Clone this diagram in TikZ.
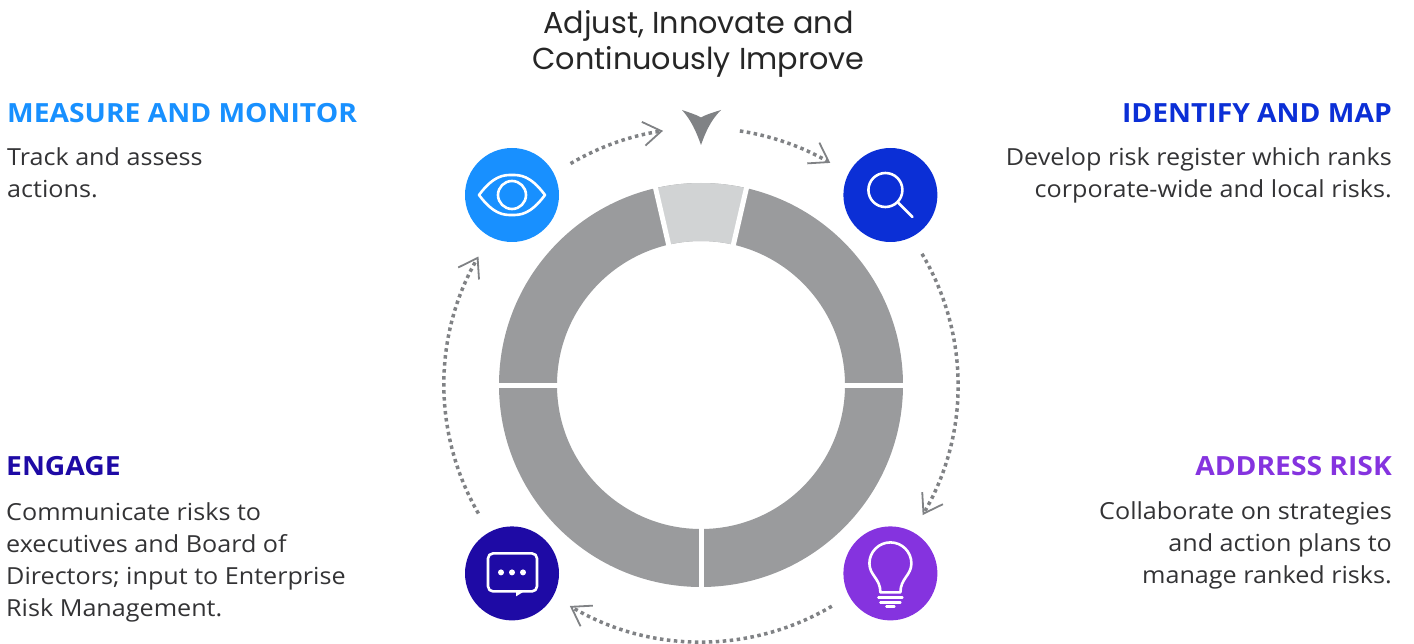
\documentclass[tikz,border=0pt]{standalone}
\usepackage{fontspec}
\setmainfont[FakeStretch=1.07]{Open Sans}
\newfontfamily\goalfont{Poppins}
\usetikzlibrary{arrows.meta, positioning, calc}
\definecolor{ringgrey}{HTML}{9A9B9D}
\definecolor{lightgrey}{HTML}{D1D3D4}
\definecolor{flowgrey}{HTML}{808285}
\definecolor{bodytext}{HTML}{333335}
\definecolor{monitorblue}{HTML}{1890FF}
\definecolor{identifyblue}{HTML}{0B2FD6}
\definecolor{engagenavy}{HTML}{1E0AA5}
\definecolor{addresspurple}{HTML}{8533DF}
\tikzstyle{badge} = [circle, minimum size=94pt, inner sep=0pt]
\tikzstyle{headleft} = [anchor=base west, inner sep=0pt, font=\bfseries\fontsize{26.4}{26}\selectfont]
\tikzstyle{headright} = [anchor=base east, inner sep=0pt, font=\bfseries\fontsize{26.4}{26}\selectfont]
\tikzstyle{bodyleft} = [anchor=north west, inner sep=0pt, align=left, text=bodytext, font=\fontsize{23.5}{32}\selectfont]
\tikzstyle{bodyright} = [anchor=north east, inner sep=0pt, align=right, text=bodytext, font=\fontsize{23.5}{32}\selectfont]
\tikzstyle{flow} = [draw=flowgrey, line width=3.5pt, dash pattern=on 3.5pt off 3.5pt, -{Straight Barb[line width=1.8pt, length=18pt, width=24pt]}]
\tikzstyle{glyph} = [draw=white, line width=2.6pt, line cap=round, line join=round]
\begin{document}
\begin{tikzpicture}[x=1pt, y=1pt]
	\useasboundingbox (0,0) rectangle (1414,-644);
	\coordinate (hub) at (701,-385);
	%----------------------------------------------------%
	\fill[ringgrey, even odd rule] (hub) circle[radius=202pt] (hub) circle[radius=144pt];
	\fill[lightgrey] ($(hub)+(77:202pt)$) arc[start angle=77, end angle=103, radius=202pt] -- ($(hub)+(103:144pt)$) arc[start angle=103, end angle=77, radius=144pt] -- cycle;
	\foreach \gapangle in {0,77,103,180,270}
		\draw[white, line width=5pt] ($(hub)+(\gapangle:138pt)$) -- ($(hub)+(\gapangle:208pt)$);
	%----------------------------------------------------%
	\fill[flowgrey] (701,-145) .. controls (696,-131) and (691,-120) .. (682,-110) .. controls (689,-112.5) and (696,-114.5) .. (701,-117.5) .. controls (706,-114.5) and (713,-112.5) .. (721,-110) .. controls (711,-120) and (706,-131) .. (701,-145) -- cycle;
	%----------------------------------------------------%
	\node(eye) [badge, fill=monitorblue] at (512,-195) {};
	\node(search) [badge, fill=identifyblue, right=284pt of eye] {};
	\node(chat) [badge, fill=engagenavy, below=284pt of eye] {};
	\node(bulb) [badge, fill=addresspurple, right=284pt of chat] {};
	%----------------------------------------------------%
	\draw[glyph] ($(eye)+(-33,0)$) .. controls ($(eye)+(-18,20)$) and ($(eye)+(-8,20)$) .. ($(eye)+(0,20)$) .. controls ($(eye)+(8,20)$) and ($(eye)+(18,20)$) .. ($(eye)+(33,0)$) .. controls ($(eye)+(18,-20)$) and ($(eye)+(8,-20)$) .. ($(eye)+(0,-20)$) .. controls ($(eye)+(-8,-20)$) and ($(eye)+(-18,-20)$) .. ($(eye)+(-33,0)$) -- cycle;
	\draw[glyph] (eye) circle[radius=14pt];
	\draw[glyph] ($(search)+(-5,5)$) circle[radius=17pt];
	\draw[glyph] ($(search)+(8,-8)$) -- ($(search)+(22,-22)$);
	\draw[glyph, rounded corners=5pt] ($(chat)+(-24,20)$) rectangle ($(chat)+(25,-18)$);
	\fill[white] ($(chat)+(4,-18)$) -- ($(chat)+(12,-18)$) -- ($(chat)+(4,-23)$) -- cycle;
	\foreach \dotx in {-11,0,11}
		\fill[white] ($(chat)+(\dotx,1)$) circle[radius=3pt];
	\draw[glyph] ($(bulb)+(-10,-19)$) .. controls ($(bulb)+(-10,-5)$) and ($(bulb)+(-21,-2)$) .. ($(bulb)+(-21,10)$) arc[start angle=180, end angle=0, radius=21pt] .. controls ($(bulb)+(21,-2)$) and ($(bulb)+(10,-5)$) .. ($(bulb)+(10,-19)$) -- cycle;
	\draw[glyph] ($(bulb)+(-12,-24)$) -- ($(bulb)+(12,-24)$);
	\draw[glyph] ($(bulb)+(-10,-29)$) -- ($(bulb)+(10,-29)$);
	\draw[glyph] ($(bulb)+(-4,-33)$) -- ($(bulb)+(4,-33)$);
	%----------------------------------------------------%
	\coordinate (from1) at ($(hub)+(120.5:257pt)$);
	\coordinate (from2) at ($(hub)+(81.3:257pt)$);
	\coordinate (from3) at ($(hub)+(30.7:257pt)$);
	\coordinate (from4) at ($(hub)+(-59.4:257pt)$);
	\coordinate (from5) at ($(hub)+(210:257pt)$);
	\draw[flow] (from1) arc[start angle=120.5, end angle=98.5, radius=257pt];
	\draw[flow] (from2) arc[start angle=81.3, end angle=59.8, radius=257pt];
	\draw[flow] (from3) arc[start angle=30.7, end angle=-30.4, radius=257pt];
	\draw[flow] (from4) arc[start angle=-59.4, end angle=-120.7, radius=257pt];
	\draw[flow] (from5) arc[start angle=210, end angle=150, radius=257pt];
	%----------------------------------------------------%
	\node(goal) [inner sep=0pt, align=center, text=black!85, font=\goalfont\fontsize{30.3}{36.5}\selectfont] at (698.5,-44) {Adjust, Innovate and\\Continuously Improve};
	\node(measure) [headleft, text=monitorblue] at (7,-123) {MEASURE AND MONITOR};
	\node(measuretext) [bodyleft, below=24pt of measure.base west, anchor=north west] {Track and assess\\actions.};
	\node(identify) [headright, text=identifyblue] at (1392,-123) {IDENTIFY AND MAP};
	\node(identifytext) [bodyright, below=24pt of identify.base east, anchor=north east] {Develop risk register which ranks\\corporate-wide and local risks.};
	\node(engage) [headleft, text=engagenavy] at (6,-475) {ENGAGE};
	\node(engagetext) [bodyleft, below=27pt of engage.base west, anchor=north west] {Communicate risks to\\executives and Board of\\Directors; input to Enterprise\\Risk Management.};
	\node(address) [headright, text=addresspurple] at (1392,-475) {ADDRESS RISK};
	\node(addresstext) [bodyright, below=26pt of address.base east, anchor=north east] {Collaborate on strategies\\and action plans to\\manage ranked risks.};
\end{tikzpicture}
\end{document}
